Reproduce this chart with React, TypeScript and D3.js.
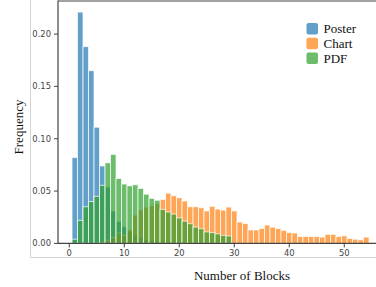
import React from "react";
import * as d3 from "d3";

const W = 376;
const H = 287;

const seriesNames = ["Poster", "Chart", "PDF"];
const seriesColors = ["#1f77b4", "#ff7f0e", "#2ca02c"];

// values for bins starting at 1
const posterValues = [0.082, 0.221, 0.188, 0.165, 0.111, 0.074, 0.054, 0.031, 0.021, 0.016, 0.011, 0.008, 0.006, 0.004, 0.003, 0.002, 0.002, 0.001, 0.001, 0.001];
const chartValues = [0, 0, 0, 0, 0.0005, 0.001, 0.003, 0.0057, 0.010, 0.0076, 0.013, 0.027, 0.032, 0.0347, 0.036, 0.038, 0.042, 0.048, 0.0455, 0.0436, 0.0405, 0.035, 0.035, 0.034, 0.031, 0.0354, 0.0328, 0.0318, 0.0347, 0.031, 0.0204, 0.019, 0.0128, 0.0128, 0.0142, 0.0175, 0.0155, 0.0142, 0.0124, 0.0103, 0.0099, 0.0066, 0.0066, 0.0066, 0.0066, 0.006, 0.0086, 0.0086, 0.0066, 0.0072, 0.0047, 0.004, 0.0034, 0.006];
const pdfValues = [0.004, 0.022, 0.035, 0.040, 0.045, 0.0555, 0.077, 0.085, 0.062, 0.0567, 0.055, 0.056, 0.0525, 0.047, 0.043, 0.0412, 0.0325, 0.030, 0.028, 0.0244, 0.0213, 0.0188, 0.0156, 0.014, 0.011, 0.0103, 0.0091, 0.0077, 0.0071];

const xTicks = [0, 10, 20, 30, 40, 50];
const yTicks = [0, 0.05, 0.1, 0.15, 0.2];

export default function App() {
  const x = d3.scaleLinear().domain([-2.05, 56.5]).range([58, 380]);
  const y = d3.scaleLinear().domain([0, 0.2316]).range([243.4, 1]);
  const allSeries = [posterValues, chartValues, pdfValues];
  const tickFont = "DejaVu Sans, sans-serif";
  const serif = "Liberation Serif, Times New Roman, serif";

  return (
    <svg width={W} height={H} style={{ position: "absolute", left: 0, top: 0, display: "block", background: "#fff" }}>
      {/* figure border */}
      <line x1={30.5} x2={30.5} y1={0} y2={257.5} stroke="#d4d4d4" strokeWidth={1} />
      <line x1={30.5} x2={W} y1={257.5} y2={257.5} stroke="#d4d4d4" strokeWidth={1} />

      {allSeries.map((vals, si) => (
        <g key={si}>
          {vals.map((v, i) => {
            const bin = i + 1;
            if (v <= 0) return null;
            const x0 = x(bin - 0.5);
            const x1 = x(bin + 0.5);
            return (
              <rect
                key={i}
                x={x0}
                y={y(v)}
                width={x1 - x0}
                height={y(0) - y(v)}
                fill={seriesColors[si]}
                fillOpacity={0.7}
                stroke="#fff"
                strokeOpacity={0.7}
                strokeWidth={1}
              />
            );
          })}
        </g>
      ))}

      {/* spines */}
      <line x1={58} x2={58} y1={0.5} y2={243.4} stroke="#444" strokeWidth={1.2} />
      <line x1={58} x2={W} y1={1} y2={1} stroke="#444" strokeWidth={1.2} />
      <line x1={58} x2={W} y1={243.4} y2={243.4} stroke="#444" strokeWidth={1.2} />

      {/* y ticks */}
      {yTicks.map((t) => (
        <g key={t}>
          <line x1={54} x2={58} y1={y(t)} y2={y(t)} stroke="#444" strokeWidth={1} />
          <text x={51} y={y(t)} dy="0.35em" textAnchor="end" fontFamily={tickFont} fontSize={8.4} fill="#444">
            {d3.format(".2f")(t)}
          </text>
        </g>
      ))}
      {/* x ticks */}
      {xTicks.map((t) => (
        <g key={t}>
          <line x1={x(t)} x2={x(t)} y1={243.4} y2={247.4} stroke="#444" strokeWidth={1} />
          <text x={x(t)} y={253.5} dy="0.35em" textAnchor="middle" fontFamily={tickFont} fontSize={8.4} fill="#444">
            {t}
          </text>
        </g>
      ))}

      <text x={242} y={275} dy="0.35em" textAnchor="middle" fontFamily={serif} fontSize={13} fill="#111">
        Number of Blocks
      </text>
      <text transform="translate(18,127) rotate(-90)" dy="0.35em" textAnchor="middle" fontFamily={serif} fontSize={13} fill="#111">
        Frequency
      </text>

      {/* legend */}
      {seriesNames.map((n, i) => (
        <g key={n} transform={`translate(306.5, ${23 + i * 14.8})`}>
          <rect x={0} y={0} width={11.5} height={11.5} rx={2} fill={seriesColors[i]} fillOpacity={0.7} />
          <text x={17} y={5.8} dy="0.35em" fontFamily={serif} fontSize={13} fill="#111">
            {n}
          </text>
        </g>
      ))}
    </svg>
  );
}
